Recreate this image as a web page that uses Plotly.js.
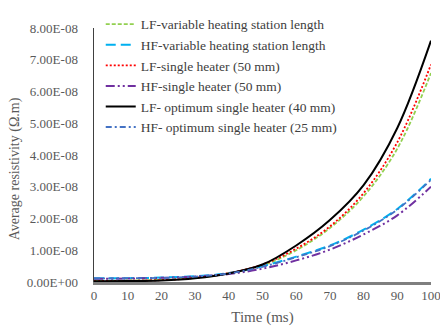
<!DOCTYPE html>
<html>
<head>
<meta charset="utf-8">
<script src="https://cdn.plot.ly/plotly-3.0.1.min.js"></script>
<style>html,body{margin:0;padding:0;background:#fff;}#chart{width:440px;height:330px;}</style>
</head>
<body>
<div id="chart"></div>
<script>
// Time (ms)
var time = [0, 10, 20, 30, 40, 50, 60, 70, 80, 90, 100];
// Average resistivity, in units of 1E-08 Ω.m
var lfVariable = [0.04, 0.05, 0.07, 0.13, 0.27, 0.52, 1.00, 1.70, 2.70, 4.20, 6.58];
var hfVariable = [0.12, 0.12, 0.14, 0.18, 0.28, 0.50, 0.80, 1.15, 1.65, 2.30, 3.25];
var lfSingle50 = [0.03, 0.04, 0.06, 0.13, 0.28, 0.55, 1.05, 1.75, 2.80, 4.40, 6.85];
var hfSingle50 = [0.10, 0.11, 0.13, 0.17, 0.25, 0.42, 0.68, 1.02, 1.50, 2.10, 3.00];
var lfOptimum40 = [0.02, 0.03, 0.05, 0.12, 0.27, 0.55, 1.15, 1.95, 3.05, 4.85, 7.60];
var hfOptimum25 = [0.11, 0.12, 0.13, 0.17, 0.27, 0.48, 0.78, 1.13, 1.62, 2.28, 3.22];

var names = ["LF-variable heating station length", "HF-variable heating station length",
  "LF-single heater (50 mm)", "HF-single heater (50 mm)",
  "LF- optimum single heater (40 mm)", "HF- optimum single heater (25 mm)"];

var yTickVals = [0, 1, 2, 3, 4, 5, 6, 7, 8];
var yTickText = ["0.00E+00", "1.00E-08", "2.00E-08", "3.00E-08", "4.00E-08", "5.00E-08", "6.00E-08", "7.00E-08", "8.00E-08"];

function tr(y, name, color, dash, width) {
  return {x: time, y: y, name: name, type: 'scatter', mode: 'lines',
    line: {color: color, dash: dash, width: width, shape: 'spline', smoothing: 1}};
}
var data = [
  tr(lfVariable, names[0], '#92d050', '4px,2px', 1.8),
  tr(hfVariable, names[1], '#00b0f0', '10px,5px', 2),
  tr(lfSingle50, names[2], '#ff0000', '2px,2px', 1.8),
  tr(hfSingle50, names[3], '#7030a0', '9px,3px,2px,3px,2px,3px', 2),
  tr(lfOptimum40, names[4], '#000000', 'solid', 2),
  tr(hfOptimum25, names[5], '#4472c4', '6px,3px,2px,3px', 1.8)
];

var ff = '"Liberation Serif", "Times New Roman", serif';
var layout = {
  width: 440, height: 330,
  margin: {l: 94, r: 9, t: 12, b: 48},
  paper_bgcolor: '#fff', plot_bgcolor: '#fff',
  showlegend: true,
  font: {family: ff, color: '#595959'},
  legend: {x: 0.02, y: 1.075, xanchor: 'left', yanchor: 'top', bgcolor: 'rgba(0,0,0,0)',
    font: {family: ff, size: 13.5, color: '#404040'}, itemwidth: 30, tracegroupgap: 0},
  xaxis: {
    range: [0, 100], tickvals: time, ticks: '', showgrid: false, zeroline: false,
    showline: true, linecolor: '#7f7f7f', linewidth: 2.5, ticklabeloverflow: 'allow',
    tickfont: {family: ff, size: 13, color: '#595959'},
    title: {text: 'Time (ms)', font: {family: ff, size: 15, color: '#595959'}, standoff: 10}
  },
  yaxis: {
    range: [0, 8], tickvals: yTickVals, ticktext: yTickText, ticks: 'outside', ticklen: 12, tickcolor: 'rgba(0,0,0,0)',
    showgrid: false, zeroline: false, showline: true, linecolor: '#404040', linewidth: 1.5,
    tickfont: {family: ff, size: 13, color: '#595959'}
  },
  annotations: [{
    text: 'Average resistivity (Ω.m)', textangle: -90, showarrow: false,
    xref: 'paper', yref: 'paper', x: -0.234, y: 0.444, xanchor: 'center', yanchor: 'middle',
    font: {family: ff, size: 14, color: '#595959'}
  }]
};
Plotly.newPlot('chart', data, layout, {staticPlot: true, displayModeBar: false});
</script>
</body>
</html>
